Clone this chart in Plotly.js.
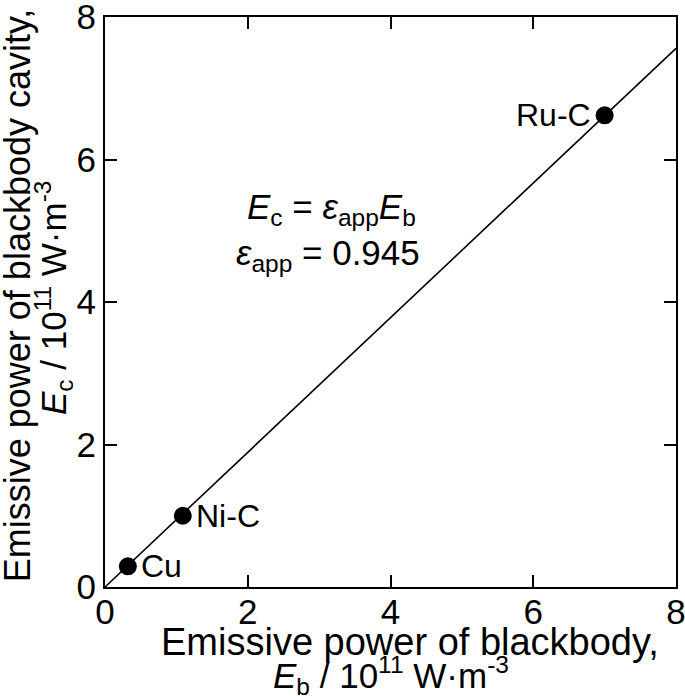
<!DOCTYPE html>
<html>
<head>
<meta charset="utf-8">
<script src="https://cdn.plot.ly/plotly-3.0.1.min.js"></script>
<style>
  body { margin: 0; background: #fff; }
  #chart { width: 685px; height: 696px; }
</style>
</head>
<body>
<div id="chart"></div>
<script>
// fixed points (Cu, Ni-C, Ru-C)
var pointNames = ["Cu", "Ni-C", "Ru-C"];
var eb = [0.32, 1.09, 7.0];
var ec = [0.29, 1.0, 6.62];

// fit line Ec = 0.945 Eb
var lineX = [0, 8];
var lineY = [0, 7.56];

var tickVals = [0, 2, 4, 6, 8];

var fnt = "Liberation Sans, Arial, sans-serif";

function txt(s, x, y, size, ang) {
  return {
    xref: 'paper', yref: 'paper',
    x: x, y: y,
    text: s,
    showarrow: false,
    textangle: ang || 0,
    xanchor: 'center', yanchor: 'middle',
    font: {family: fnt, size: size, color: '#000'}
  };
}

function graficar() {
  var fit = {
    x: lineX,
    y: lineY,
    type: 'scatter',
    mode: 'lines',
    line: {color: '#000', width: 1.6},
    hoverinfo: 'skip'
  };

  var puntos = {
    x: eb,
    y: ec,
    type: 'scatter',
    mode: 'markers',
    marker: {color: '#000', size: 18},
    text: pointNames
  };

  var anots = [];
  for (var i = 0; i < pointNames.length; i++) {
    var izq = pointNames[i] == "Ru-C";
    anots.push({
      x: eb[i], y: ec[i],
      text: pointNames[i],
      showarrow: false,
      xanchor: izq ? 'right' : 'left',
      xshift: izq ? -12 : 11,
      font: {family: fnt, size: 32, color: '#000'}
    });
  }
  anots.push({
    x: 3.18, y: 5.3,
    text: "<i>E</i><sub>c</sub> = <i>ε</i><sub>app</sub><i>E</i><sub>b</sub>",
    showarrow: false,
    font: {family: fnt, size: 35, color: '#000'}
  });
  anots.push({
    x: 3.12, y: 4.66,
    text: "<i>ε</i><sub>app</sub> = 0.945",
    showarrow: false,
    font: {family: fnt, size: 35, color: '#000'}
  });

  // axis titles, one line each
  anots.push(txt("Emissive power of blackbody,", 0.534, -0.0965, 38));
  anots.push(txt("<i>E</i><sub>b</sub> / 10<sup>11</sup> W·m<sup>-3</sup>", 0.501, -0.155, 35));
  anots.push(txt("Emissive power of blackbody cavity,", -0.154, 0.512, 36, -90));
  anots.push(txt("<i>E</i><sub>c</sub> / 10<sup>11</sup> W·m<sup>-3</sup>", -0.091, 0.507, 35, -90));

  var eje = {
    range: [0, 8],
    tickmode: 'array',
    tickvals: tickVals,
    ticktext: tickVals.map(String),
    showgrid: false,
    zeroline: false,
    showline: true,
    linecolor: '#000',
    linewidth: 2,
    mirror: 'ticks',
    ticks: 'inside',
    ticklen: 12,
    tickwidth: 2,
    tickcolor: '#000',
    ticklabeloverflow: 'allow',
    tickfont: {family: fnt, size: 35, color: '#000'}
  };

  var layout = {
    width: 685,
    height: 696,
    margin: {l: 105, r: 9, t: 17, b: 109},
    paper_bgcolor: '#fff',
    plot_bgcolor: '#fff',
    showlegend: false,
    xaxis: Object.assign({}, eje, {ticklabelstandoff: -7}),
    yaxis: Object.assign({}, eje),
    annotations: anots
  };

  Plotly.newPlot('chart', [fit, puntos], layout, {staticPlot: true});
}

graficar();
</script>
</body>
</html>
